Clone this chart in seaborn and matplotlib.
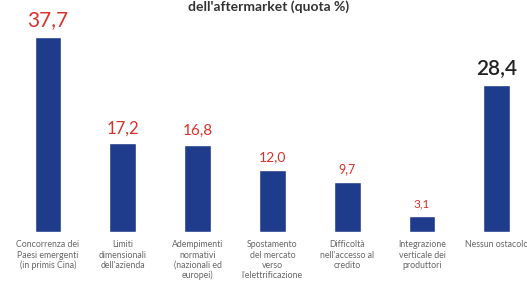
import matplotlib
matplotlib.use("Agg")
import matplotlib.pyplot as plt
import pandas as pd
import seaborn as sns

categories = [
    "Concorrenza dei\nPaesi emergenti\n(in primis Cina)",
    "Limiti\ndimensionali\ndell'azienda",
    "Adempimenti\nnormativi\n(nazionali ed\neuropei)",
    "Spostamento\ndel mercato\nverso\nl'elettrificazione",
    "Difficoltà\nnell'accesso al\ncredito",
    "Integrazione\nverticale dei\nproduttori",
    "Nessun ostacolo",
]
values = [37.7, 17.2, 16.8, 12.0, 9.7, 3.1, 28.4]
label_sizes = [15, 12, 11, 10, 9, 8.5, 15]
label_colors = ["#d8322c"] * 6 + ["#222222"]
label_weights = ["normal"] * 6 + ["semibold"]

sns.set_style("white")
plt.rcParams["font.family"] = ["Lato", "DejaVu Sans"]

df = pd.DataFrame({"cat": categories, "val": values})

fig = plt.figure(figsize=(5.27, 2.88), dpi=100)
ax = fig.add_axes([0, 0.194, 1, 0.806])

sns.barplot(data=df, x="cat", y="val", color="#1f3c8c", saturation=1,
            width=0.36, ax=ax)

for i, v in enumerate(values):
    ax.annotate(f"{v:.1f}".replace(".", ","), (i, v), xytext=(0, 5),
                textcoords="offset points", ha="center", va="bottom",
                fontsize=label_sizes[i], color=label_colors[i],
                fontweight=label_weights[i])

ax.set_xlim(-0.642, 6.404)
ax.set_ylim(0, 44.9)
ax.set_xlabel("")
ax.set_ylabel("")
ax.set_yticks([])
ax.tick_params(axis="x", length=0, pad=6, labelsize=6.3, labelcolor="#666666")
for lab in ax.get_xticklabels():
    lab.set_linespacing(1.15)
    lab.set_va("top")
sns.despine(ax=ax, left=True, bottom=True)

# titolo (solo la seconda riga è visibile nel ritaglio)
fig.text(0.51, 0.998, "dell'aftermarket (quota %)", ha="center",
         va="top", fontsize=10, fontweight="bold", color="#333333")

fig.savefig("out.png", dpi=100)
